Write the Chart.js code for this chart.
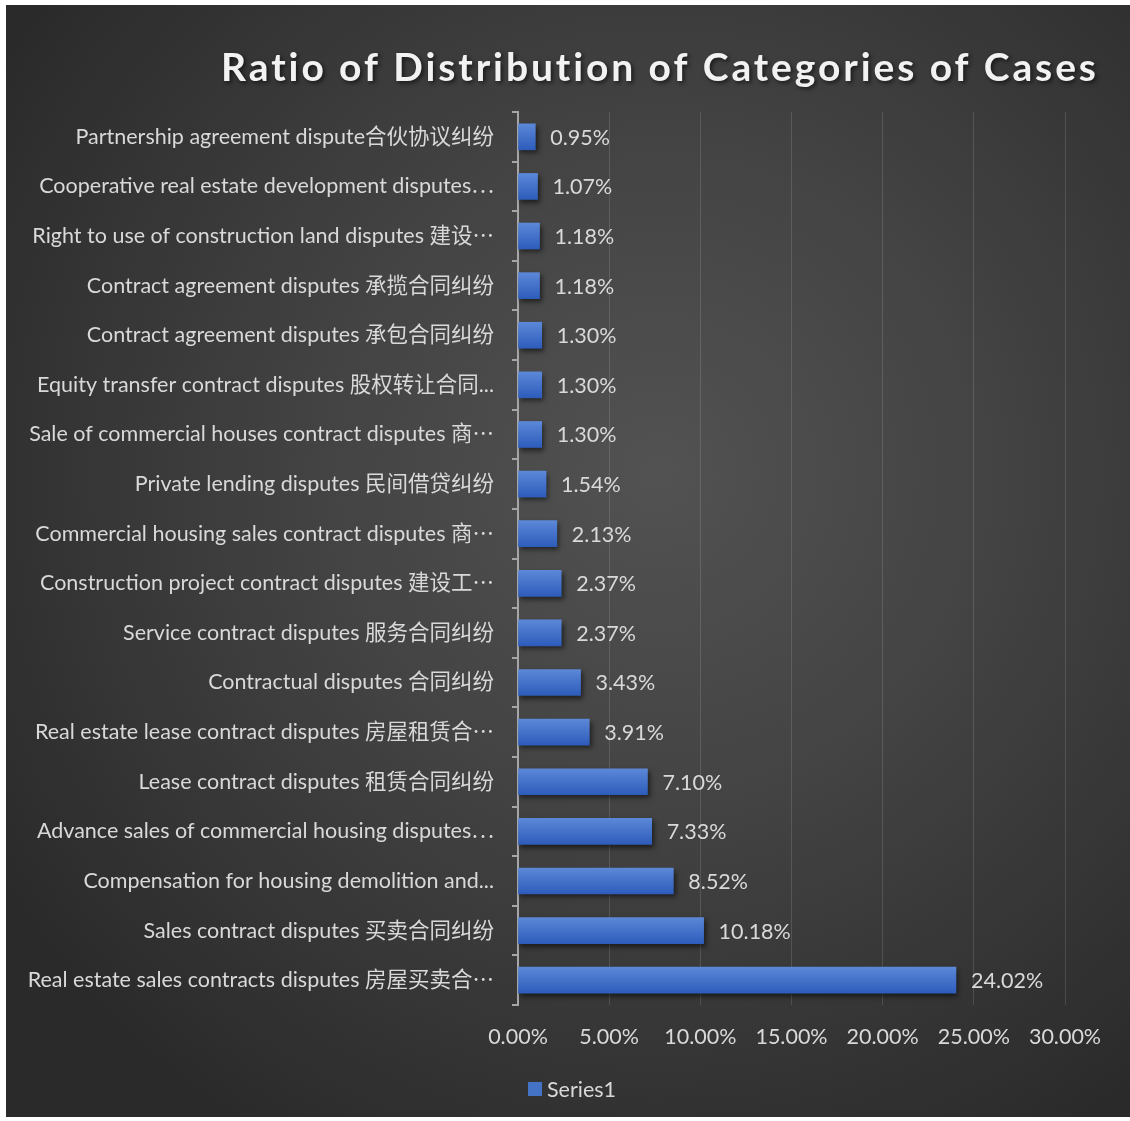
<!DOCTYPE html>
<html>
<head>
<meta charset="utf-8">
<script src="https://cdn.jsdelivr.net/npm/chart.js@4/dist/chart.umd.min.js"></script>
<style>
  html, body { margin: 0; padding: 0; background: #fff; }
  #panel {
    position: absolute; left: 6px; top: 5px; width: 1124px; height: 1112px;
    background: radial-gradient(circle at 58% 42%, #525252 0%, #444 35%, #2a2a2a 85%);
  }
</style>
</head>
<body>
<div id="panel"><canvas id="chart" width="1124" height="1112"></canvas></div>
<script>
// ── category case ratio chart ─────────

const categories = [
  'Partnership agreement dispute合伙协议纠纷',
  'Cooperative real estate development disputes⋯',
  'Right to use of construction land disputes 建设⋯',
  'Contract agreement disputes 承揽合同纠纷',
  'Contract agreement disputes 承包合同纠纷',
  'Equity transfer contract disputes 股权转让合同...',
  'Sale of commercial houses contract disputes 商⋯',
  'Private lending disputes 民间借贷纠纷',
  'Commercial housing sales contract disputes 商⋯',
  'Construction project contract disputes 建设工⋯',
  'Service contract disputes 服务合同纠纷',
  'Contractual disputes 合同纠纷',
  'Real estate lease contract disputes 房屋租赁合⋯',
  'Lease contract disputes 租赁合同纠纷',
  'Advance sales of commercial housing disputes⋯',
  'Compensation for housing demolition and...',
  'Sales contract disputes 买卖合同纠纷',
  'Real estate sales contracts disputes 房屋买卖合⋯'
];
const series1 = [0.95, 1.07, 1.18, 1.18, 1.30, 1.30, 1.30, 1.54, 2.13, 2.37, 2.37, 3.43, 3.91, 7.10, 7.33, 8.52, 10.18, 24.02];
const xTicks = [0, 5, 10, 15, 20, 25, 30];

const FONT = 'Lato, "Noto Sans CJK SC", sans-serif';
const FSIZE = 21.5;
const TXT = '#d9d9d9';
const BAR_H = 26;

// bar fill: vertical gradient, light on top
function barFill(c) {
  const ch = c.chart;
  const y = ch.scales.y ? ch.scales.y.getPixelForValue(c.dataIndex) : 0;
  if (!isFinite(y)) return '#4472c4';
  const g = ch.ctx.createLinearGradient(0, y - BAR_H / 2, 0, y + BAR_H / 2);
  g.addColorStop(0, '#5c88d8');
  g.addColorStop(1, '#2d5cbb');
  return g;
}

const titlePlugin = {
  id: 'bigTitle',
  afterDraw(chart) {
    const c = chart.ctx;
    c.save();
    c.font = 'bold 39px ' + FONT;
    c.letterSpacing = '2.9px';
    c.fillStyle = '#f2f2f2';
    c.textAlign = 'center'; c.textBaseline = 'middle';
    c.shadowColor = 'rgba(0,0,0,.6)'; c.shadowBlur = 4; c.shadowOffsetX = 2; c.shadowOffsetY = 2;
    c.fillText('Ratio of Distribution of Categories of Cases', 654, 63);
    c.restore();
  }
};

// legend drawn by hand so the box/text gap matches
const legendPlugin = {
  id: 'seriesLegend',
  afterDraw(chart) {
    const c = chart.ctx;
    c.save();
    c.fillStyle = '#4472c4';
    c.fillRect(522, 1077, 14, 14);
    c.font = FSIZE + 'px ' + FONT; c.fillStyle = TXT;
    c.textAlign = 'left'; c.textBaseline = 'middle';
    c.fillText(chart.data.datasets[0].label, 541, 1085);
    c.restore();
  }
};

const shadowPlugin = {
  id: 'barShadow',
  beforeDatasetDraw(chart) {
    const c = chart.ctx;
    c.save();
    c.shadowColor = 'rgba(0,0,0,.55)'; c.shadowBlur = 5; c.shadowOffsetX = 2; c.shadowOffsetY = 3;
  },
  afterDatasetDraw(chart) { chart.ctx.restore(); }
};

const valueLabels = {
  id: 'valueLabels',
  afterDatasetsDraw(chart) {
    const c = chart.ctx;
    const meta = chart.getDatasetMeta(0);
    c.save();
    c.font = FSIZE + 'px ' + FONT; c.fillStyle = TXT;
    c.textAlign = 'left'; c.textBaseline = 'middle';
    meta.data.forEach((bar, i) => {
      c.fillText(series1[i].toFixed(2) + '%', bar.x + 15, bar.y + 1);
    });
    c.restore();
  }
};

new Chart(document.getElementById('chart'), {
  type: 'bar',
  data: {
    labels: categories,
    datasets: [{
      label: 'Series1',
      data: series1,
      backgroundColor: barFill,
      borderWidth: 0,
      barThickness: BAR_H
    }]
  },
  options: {
    indexAxis: 'y',
    responsive: false, animation: false,
    layout: { padding: { top: 107, right: 65, bottom: 54, left: 0 } },
    plugins: {
      title: { display: false },
      tooltip: { enabled: false },
      legend: { display: false }
    },
    scales: {
      x: {
        min: 0, max: 30,
        afterBuildTicks: s => { s.ticks = xTicks.map(v => ({ value: v })); },
        afterFit: s => { s.height = 58; },
        grid: { color: 'rgba(255,255,255,.13)', lineWidth: 1, drawTicks: false },
        border: { display: false },
        ticks: { color: TXT, font: { family: FONT, size: FSIZE }, padding: 19, callback: v => v.toFixed(2) + '%' }
      },
      y: {
        afterFit: s => { s.width = 512; },
        grid: { offset: true, drawOnChartArea: false, drawTicks: true, tickLength: 6, color: '#a6a6a6', lineWidth: 2 },
        border: { display: true, color: '#a6a6a6', width: 2 },
        ticks: { color: TXT, font: { family: FONT, size: FSIZE }, padding: 18, autoSkip: false }
      }
    }
  },
  plugins: [shadowPlugin, valueLabels, titlePlugin, legendPlugin]
});
</script>
</body>
</html>
